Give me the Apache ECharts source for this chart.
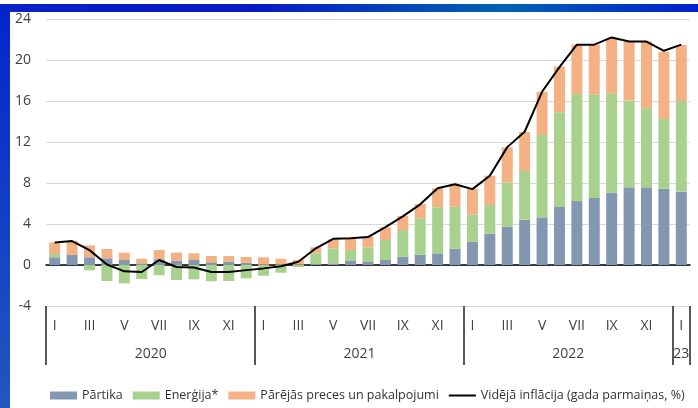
<!DOCTYPE html>
<html>
<head>
<meta charset="utf-8">
<script src="https://cdn.jsdelivr.net/npm/echarts@6/dist/echarts.min.js"></script>
<style>
  html, body { margin: 0; padding: 0; background: #fff; }
  #chart { width: 698px; height: 408px; }
</style>
</head>
<body>
<div id="chart"></div>
<script>
// months Jan 2020 .. Jan 2023
const months = ['I','II','III','IV','V','VI','VII','VIII','IX','X','XI','XII',
  'I','II','III','IV','V','VI','VII','VIII','IX','X','XI','XII',
  'I','II','III','IV','V','VI','VII','VIII','IX','X','XI','XII',
  'I']
// year label sits under index, 2020..2022 are centred between VI and VII
const yearIdx = [6, 18, 30, 36]
const yearNames = ['2020', '2021', '2022', '23']

const food = [0.75,0.98,0.75,0.65,0.49,0.16,0.55,0.42,0.49,0.26,0.33,0.23,
  0.05,0.05,0.05,0.1,0.16,0.39,0.29,0.49,0.81,1.0,1.14,1.59,
  2.27,3.06,3.74,4.42,4.65,5.66,6.24,6.54,7.06,7.58,7.58,7.45,
  7.16]
const energy = [0.32,0.0,-0.52,-1.56,-1.79,-1.37,-1.0,-1.46,-1.4,-1.59,-1.56,-1.3,
  -1.05,-0.75,-0.2,1.04,1.46,1.07,1.43,1.95,2.6,3.55,4.49,4.1,
  2.67,2.79,4.33,4.75,8.03,9.24,10.44,10.11,9.69,8.48,7.72,6.8,
  8.84]
const other = [1.14,1.36,1.17,0.91,0.71,0.46,0.91,0.78,0.65,0.62,0.55,0.55,
  0.7,0.55,0.45,0.58,0.88,1.14,1.04,1.23,1.37,1.4,1.85,2.18,
  2.47,2.86,3.41,3.81,4.22,4.45,4.82,4.85,5.35,5.74,6.5,6.55,
  5.46]
const inflation = [2.2,2.34,1.45,0.05,-0.62,-0.68,0.49,-0.2,-0.25,-0.68,-0.68,-0.5,
  -0.33,-0.12,0.32,1.63,2.55,2.6,2.72,3.7,4.75,5.92,7.48,7.87,
  7.4,8.7,11.5,13.0,16.9,19.3,21.5,21.5,22.2,21.8,21.8,20.9,
  21.5]

const names = ['Pārtika', 'Enerģija*', 'Pārējās preces un pakalpojumi', 'Vidējā inflācija (gada parmaiņas, %)']
const colors = ['#8497b0', '#a9d18e', '#f4b183', '#000000']

const font = '"Open Sans", sans-serif'
const labelColor = '#404040'

const chart = echarts.init(document.getElementById('chart'))

const barSeries = [food, energy, other].map((data, i) => ({
  name: names[i],
  type: 'bar',
  stack: 'total',
  data,
  barWidth: 11,
  itemStyle: { color: colors[i] }
}))

chart.setOption({
  animation: false,
  backgroundColor: '#fff',
  textStyle: { fontFamily: font },
  graphic: [
    {
      type: 'rect', z: -1,
      shape: { x: 0, y: 4, width: 698, height: 8 },
      style: {
        fill: new echarts.graphic.LinearGradient(0, 0, 1, 0, [
          { offset: 0, color: '#0a22c8' },
          { offset: 0.35, color: '#0818c8' },
          { offset: 0.72, color: '#0062b2' },
          { offset: 1, color: '#0020d0' }
        ])
      }
    },
    {
      type: 'rect', z: -1,
      shape: { x: 0, y: 4, width: 10, height: 404 },
      style: {
        fill: new echarts.graphic.LinearGradient(0, 0, 0, 1, [
          { offset: 0, color: '#0424cc' },
          { offset: 1, color: '#2058c0' }
        ])
      }
    }
  ],
  grid: { left: 46, right: 8, top: 19, bottom: 102 },
  legend: {
    left: 45,
    top: 384,
    width: 660,
    itemWidth: 27,
    itemHeight: 8,
    itemGap: 10,
    symbolKeepAspect: true,
    data: [
      { name: names[0], icon: 'rect' },
      { name: names[1], icon: 'rect' },
      { name: names[2], icon: 'rect' },
      // thin bar so the line entry shows no marker
      { name: names[3], icon: 'path://M0,0 H27 V2 H0 Z' }
    ],
    textStyle: { fontSize: 12.5, color: '#333', fontFamily: font }
  },
  xAxis: [
    {
      type: 'category',
      data: months,
      position: 'bottom',
      axisLine: { onZero: true, lineStyle: { color: '#000', width: 1.5 } },
      axisTick: { show: false },
      axisLabel: { show: false },
      splitLine: { show: false }
    },
    {
      type: 'category',
      data: months,
      position: 'bottom',
      axisLine: { show: false, onZero: false },
      axisTick: {
        show: true,
        interval: (i) => i % 12 === 0,
        length: 59,
        lineStyle: { color: '#222', width: 1.5 }
      },
      axisLabel: {
        interval: 1,
        margin: 13,
        fontSize: 14,
        color: labelColor,
        fontFamily: font
      }
    },
    {
      type: 'category',
      data: months,
      position: 'bottom',
      axisLine: { show: false, onZero: false },
      axisTick: { show: false },
      axisLabel: {
        interval: (i) => yearIdx.indexOf(i) >= 0,
        margin: 41,
        fontSize: 14,
        color: labelColor,
        fontFamily: font,
        formatter: (v, i) => {
          const k = yearIdx.indexOf(i)
          const name = yearNames[k]
          return k < 3 ? '{s|' + name + '}' : name
        },
        rich: {
          s: { padding: [0, 17, 0, 0], fontSize: 14, color: labelColor, fontFamily: font }
        }
      }
    }
  ],
  yAxis: {
    type: 'value',
    min: -4,
    max: 24,
    interval: 4,
    axisLine: { show: false },
    axisTick: { show: false },
    axisLabel: { fontSize: 14, color: labelColor, margin: 15, fontFamily: font },
    splitLine: { lineStyle: { color: '#d9d9d9', width: 1.2 } }
  },
  series: [
    ...barSeries,
    {
      name: names[3],
      type: 'line',
      data: inflation,
      symbol: 'none',
      z: 5,
      lineStyle: { color: colors[3], width: 2 },
      itemStyle: { color: colors[3] }
    }
  ]
})
</script>
</body>
</html>
